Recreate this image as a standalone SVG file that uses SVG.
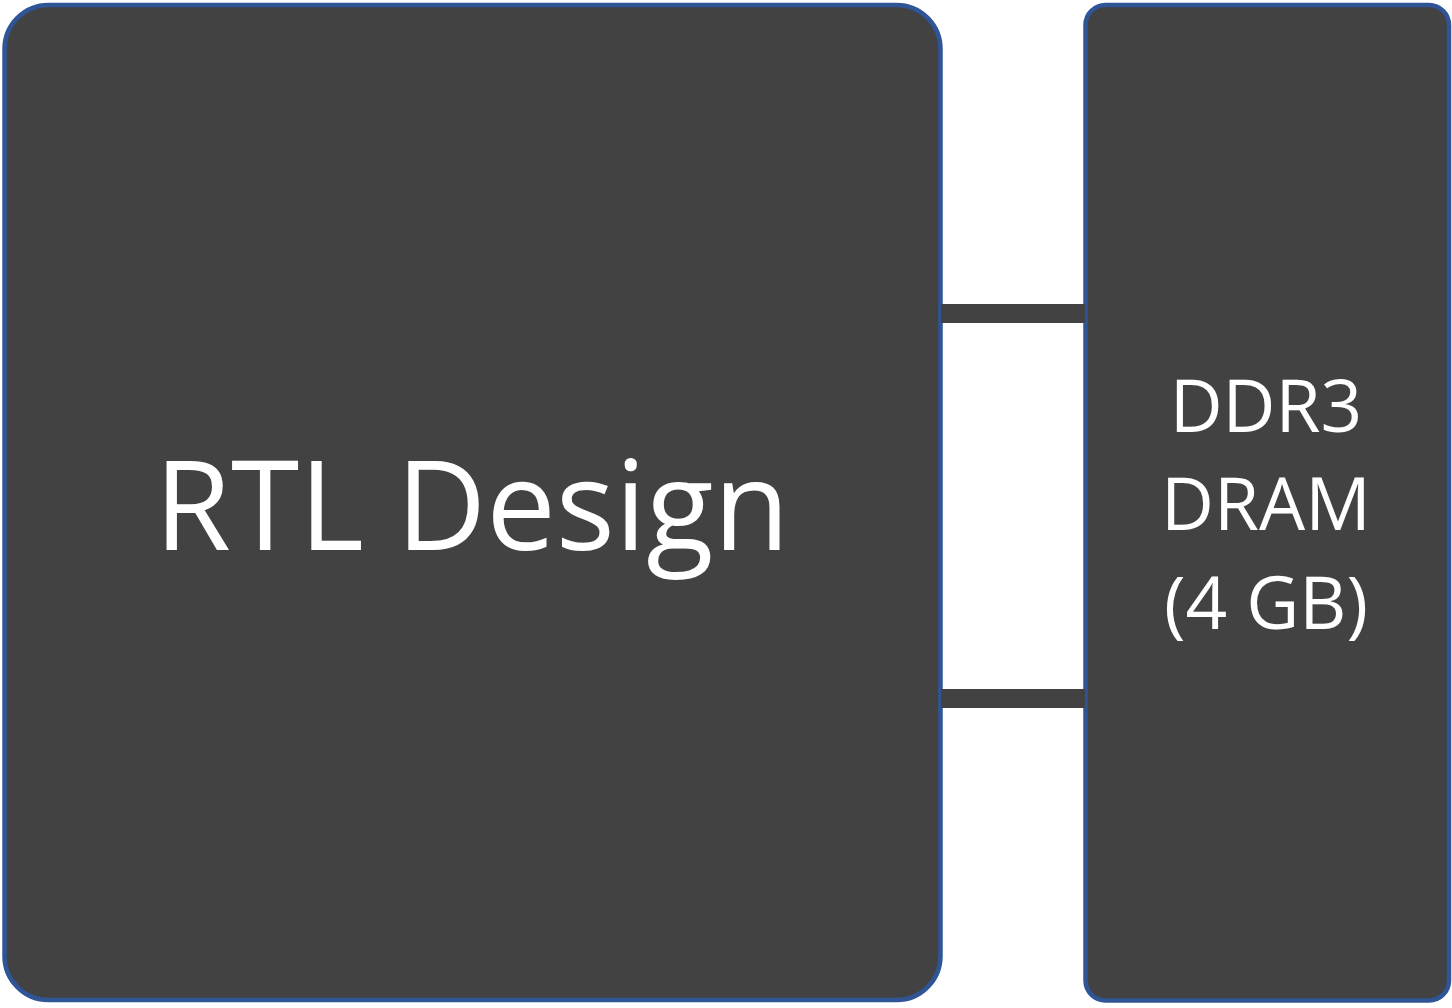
<svg xmlns="http://www.w3.org/2000/svg" width="1452" height="1008" viewBox="0 0 1452 1008">
<style>
.box{fill:#424242;stroke:#2F5597;stroke-width:4.5}
.bar{fill:#424242}
.t{fill:#ffffff;font-family:"Open Sans","Noto Sans",sans-serif;text-anchor:middle}
</style>
<rect width="1452" height="1008" fill="#ffffff"/>
<g id="rtl">
<rect class="box" x="4.5" y="5" width="936" height="995" rx="44" ry="44"/>
<text class="t" x="472" y="550" font-size="124">RTL Design</text>
</g>
<g id="ddr3">
<rect class="box" x="1085.5" y="5" width="363.5" height="995.5" rx="20" ry="20"/>
<text class="t" x="1266" y="432" font-size="73">DDR3</text>
<text class="t" x="1266" y="530" font-size="73">DRAM</text>
<text class="t" x="1266" y="629" font-size="73">(4 GB)</text>
</g>
<g id="connectors">
<rect class="bar" x="941" y="304" width="144" height="19"/>
<rect class="bar" x="941" y="689" width="144" height="19"/>
</g>
</svg>
